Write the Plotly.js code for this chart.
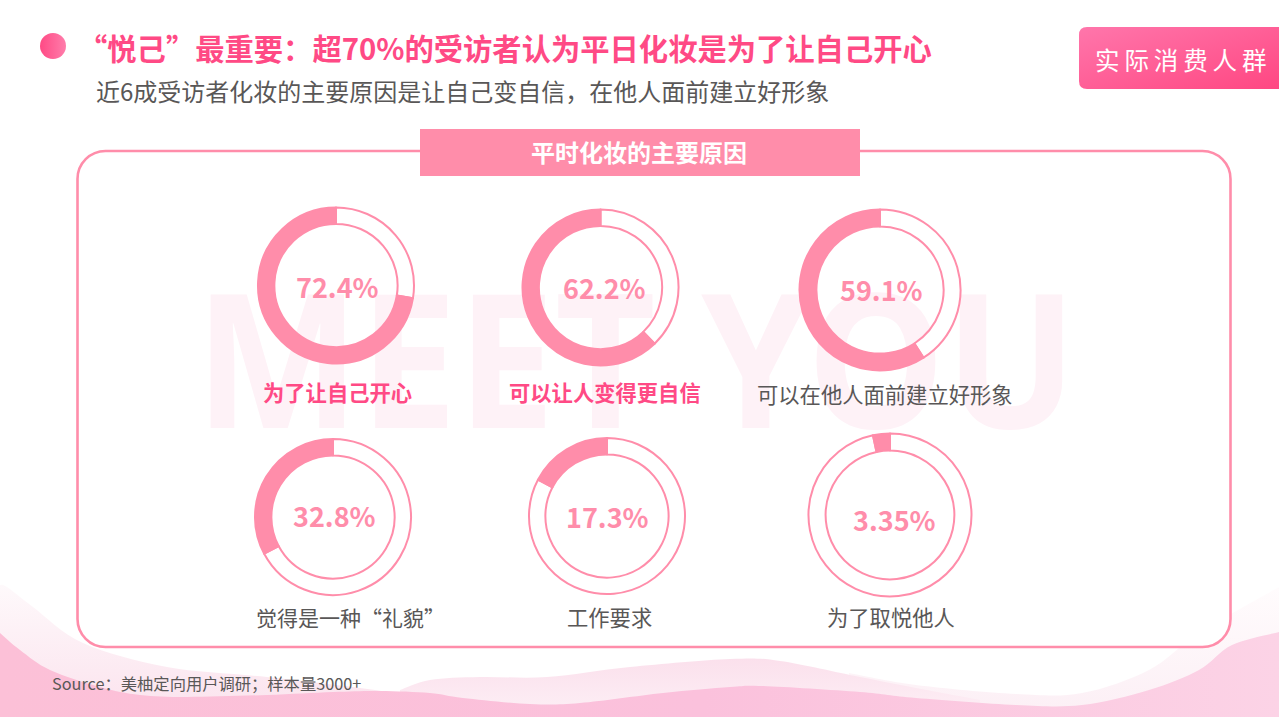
<!DOCTYPE html>
<html><head><meta charset="utf-8">
<script src="https://cdn.plot.ly/plotly-3.0.1.min.js"></script>
<style>html,body{margin:0;padding:0;background:#fff;width:1279px;height:719px;overflow:hidden}
#bg{position:absolute;left:0;top:0}#chart{position:absolute;left:0;top:0;width:1279px;height:719px}</style>
</head><body>
<svg id="bg" width="1279" height="719" viewBox="0 0 1279 719" xmlns="http://www.w3.org/2000/svg">
<defs>
<linearGradient id="dot" x1="0" x2="1" y1="0" y2="0"><stop offset="0" stop-color="#FF4A85"/><stop offset="1" stop-color="#FF7DAB"/></linearGradient>
<linearGradient id="tag" x1="0" x2="1" y1="0" y2="1"><stop offset="0" stop-color="#FF76AB"/><stop offset="1" stop-color="#FF4782"/></linearGradient>
<linearGradient id="dark" x1="0" x2="1" y1="0" y2="0"><stop offset="0" stop-color="#FCC0D7"/><stop offset=".55" stop-color="#FBC1DC"/><stop offset="1" stop-color="#FCD3E6"/></linearGradient>
<linearGradient id="hump" x1="0" x2="0" y1="0" y2="1"><stop offset="0" stop-color="#FBE0EC"/><stop offset="1" stop-color="#FDF0F6"/></linearGradient>
<linearGradient id="sideL" x1="0" x2="0" y1="0" y2="1"><stop offset="0" stop-color="#FEF9FB"/><stop offset="1" stop-color="#FBE2ED"/></linearGradient>
<linearGradient id="sideR" x1="0" x2="0" y1="0" y2="1"><stop offset="0" stop-color="#FFFCFD"/><stop offset="1" stop-color="#FCEFF5"/></linearGradient>
</defs>
<path id="wL" fill="url(#sideL)"/>
<path id="wR" fill="url(#sideR)"/>
<path id="wH" fill="url(#hump)"/>
<path id="wD" fill="url(#dark)"/>
<rect x="77.5" y="151" width="1153" height="496" rx="28" ry="28" fill="#fff" stroke="#FF8DAA" stroke-width="2.6"/>
<text x="195" y="428" font-family="Noto Sans, Open Sans, sans-serif" font-weight="700" font-size="186" fill="#FEF2F7" textLength="882" lengthAdjust="spacingAndGlyphs">MEET YOU</text>
<ellipse cx="53" cy="46" rx="13" ry="13" fill="url(#dot)"/>
<path d="M1087,27 H1279 V89 H1087 Q1079,89 1079,81 V35 Q1079,27 1087,27 Z" fill="url(#tag)"/>
<rect x="420" y="129" width="440" height="47" fill="#FF8DAA"/>
</svg>
<div id="chart"></div>
<script>
// decorative background wave outlines
const waveDark = [[0,633],[20,650],[50,670],[100,687],[140,695],[187,697],[267,695],[333,692],[380,691],[430,693],[463,698],[530,704],[580,703],[663,693],[730,687],[763,686],[860,692],[916,698],[1016,705],[1082,705],[1149,690],[1199,670],[1232,645],[1279,632]];
const waveLeft = [[0,585],[7,587],[33,607],[83,643],[167,667],[267,677],[360,688],[440,700]];
const waveHump = [[400,690],[430,680],[480,677],[547,677],[630,667],[730,659],[780,661],[860,677],[916,688],[980,700]];
const waveRight = [[849,673],[916,685],[1016,694],[1082,693],[1149,670],[1199,633],[1279,587]];
const smooth = pts => {
  let d = 'M' + pts[0][0] + ',' + pts[0][1];
  for (let i = 0; i < pts.length - 1; i++) {
    const p0 = pts[Math.max(i - 1, 0)], p1 = pts[i], p2 = pts[i + 1], p3 = pts[Math.min(i + 2, pts.length - 1)];
    d += ' C' + (p1[0] + (p2[0] - p0[0]) / 6) + ',' + (p1[1] + (p2[1] - p0[1]) / 6) + ' ' +
         (p2[0] - (p3[0] - p1[0]) / 6) + ',' + (p2[1] - (p3[1] - p1[1]) / 6) + ' ' + p2[0] + ',' + p2[1];
  }
  return d;
};
const closed = (pts, bottom) => smooth(pts) + ' L' + pts[pts.length - 1][0] + ',' + bottom + ' L' + pts[0][0] + ',' + bottom + ' Z';
document.getElementById('wD').setAttribute('d', closed(waveDark, 717));
document.getElementById('wL').setAttribute('d', closed(waveLeft, 717));
document.getElementById('wH').setAttribute('d', closed(waveHump, 717));
document.getElementById('wR').setAttribute('d', closed(waveRight, 717));

const categories = ['为了让自己开心','可以让人变得更自信','可以在他人面前建立好形象','觉得是一种“礼貌”','工作要求','为了取悦他人'];
const values = [72.4, 62.2, 59.1, 32.8, 17.3, 3.35];
const valueText = ['72.4%','62.2%','59.1%','32.8%','17.3%','3.35%'];
const ringCx = [336, 600.5, 880, 333, 607, 890];
const ringCy = [285.5, 287.5, 290, 517, 516, 515];
const ringR = [78, 78, 80.5, 78, 78, 81.5];
const labelX = [337, 605, 885, 350.5, 609, 891];
const labelY = [391, 391, 393, 617, 616, 616];
const labelSize = [21.3, 21.3, 21.3, 21, 21.3, 21.3];
const labelBold = [true, true, false, false, false, false];
const valueY = [286, 287, 289, 515, 516, 519];
const valueX = [337, 604, 881, 334, 607, 894];

const W = 1279, H = 719;
const CJK = '"Noto Sans CJK SC", "Noto Sans", sans-serif';
const note = (t, x, y, size, color, bold, anchor) => ({
  text: bold ? '<b>' + t + '</b>' : t, x: x / W, y: 1 - y / H, xref: 'paper', yref: 'paper',
  xanchor: anchor || 'center', yanchor: 'middle', showarrow: false,
  font: {family: CJK, size: size, color: color}
});

// remainder first, then the share, so the share ends at twelve o'clock on the left side
const traces = values.map((v, i) => ({
  type: 'pie', values: [100 - v, v], sort: false, direction: 'clockwise', rotation: 0,
  hole: 0.79, textinfo: 'none', hoverinfo: 'skip', showlegend: false,
  marker: {colors: ['#FFFFFF', '#FF8DAA'], line: {color: '#FF8DAA', width: 2}},
  domain: {x: [(ringCx[i] - ringR[i]) / W, (ringCx[i] + ringR[i]) / W],
           y: [1 - (ringCy[i] + ringR[i]) / H, 1 - (ringCy[i] - ringR[i]) / H]}
}));

const annotations = [
  note('“悦己”最重要\uFF1A超70%的受访者认为平日化妆是为了让自己开心', 76, 47, 29.3, '#FF4A85', true, 'left'),
  note('近6成受访者化妆的主要原因是让自己变自信\uFF0C在他人面前建立好形象', 94, 91, 24, '#595757', false, 'left'),
  note('实\u2009际\u2009消\u2009费\u2009人\u2009群', 1181, 59, 24.5, '#FFFFFF', false),
  note('平时化妆的主要原因', 639, 152, 24, '#FFFFFF', true),
  note('Source\uFF1A美柚定向用户调研\uFF1B样本量3000+', 50, 683, 16.3, '#595757', false, 'left')
];
values.forEach((v, i) => {
  annotations.push(note(valueText[i], valueX[i], valueY[i], 27, '#FF8DAA', true));
  annotations.push(note(categories[i], labelX[i], labelY[i], labelSize[i], labelBold[i] ? '#FF4A85' : '#595757', labelBold[i]));
});

Plotly.newPlot('chart', traces, {
  width: W, height: H, margin: {l: 0, r: 0, t: 0, b: 0, pad: 0},
  paper_bgcolor: 'rgba(0,0,0,0)', plot_bgcolor: 'rgba(0,0,0,0)', showlegend: false,
  annotations: annotations
}, {displayModeBar: false, staticPlot: true});
</script>
</body></html>
